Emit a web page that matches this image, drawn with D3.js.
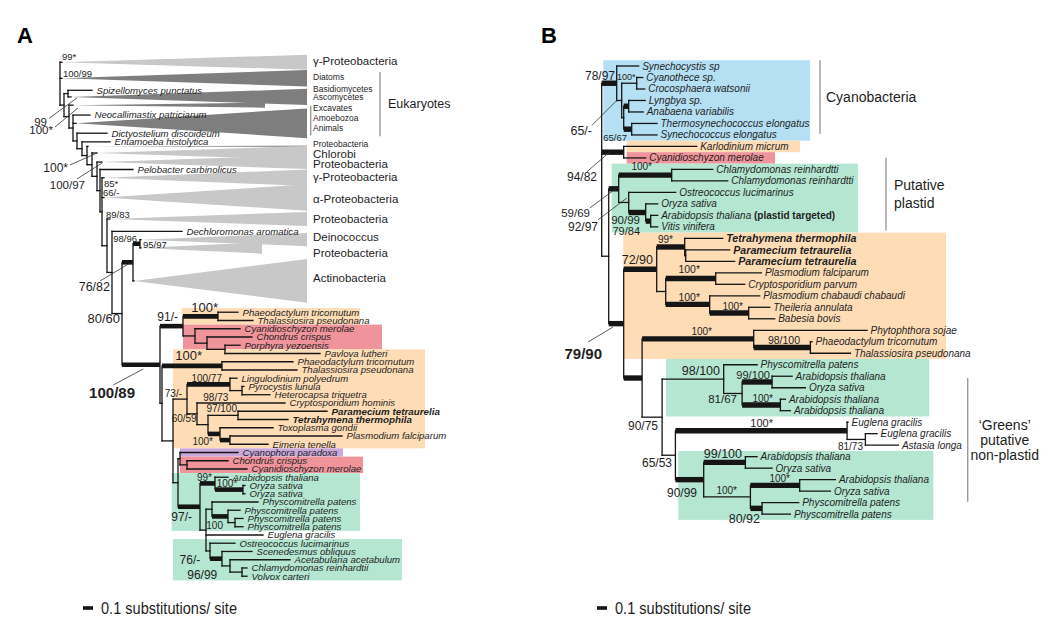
<!DOCTYPE html>
<html><head><meta charset="utf-8">
<script src="https://cdn.jsdelivr.net/npm/d3@7/dist/d3.min.js"></script>
<style>
body{margin:0;background:#fff;}
svg{display:block;font-family:"Liberation Sans",Arial,Helvetica,sans-serif;}
</style></head><body>
<svg id="chart" width="1050" height="624"></svg>
<script>
// ================= PANEL A DATA =================
// [id, parent, branch length (substitutions/site), taxon name]
const treeA = [
 ["R","",0],
 ["gam1","R",0.02],["diat","R",0.02],["A1","R",0.04],
 ["F1","A1",0.04],["spiz","F1",0.24,"Spizellomyces punctatus"],["fungi","F1",0.03],
 ["A2","A1",0.05],["exc","A2",0.04],["A3","A2",0.04],
 ["neo","A3",0.17,"Neocallimastix patriciarum"],["anim","A3",0.03],["A4","A3",0.04],
 ["dicty","A4",0.30,"Dictyostelium discoideum"],["A5","A4",0.05],
 ["ent","A5",0.28,"Entamoeba histolytica"],["A6","A5",0.05],
 ["proT","A6",0.01],["A7","A6",0.05],
 ["chlb","A7",0.05],["A8","A7",0.05],
 ["pro2","A8",0.05],["A9","A8",0.03],
 ["pel","A9",0.33,"Pelobacter carbinolicus"],["A10","A9",0.02],
 ["gam2","A10",0.02],["alpha","A10",0.02],["A11","A10",0.05],
 ["pro3","A11",0.03],["A12","A11",0.05],
 ["dech","A12",0.70,"Dechloromonas aromatica"],["A13","A12",0.10],
 ["A14","A13",0.11],["A15","A14",0.07],["dein","A15",0.01],["pro4","A15",0.01],["act","A14",0.01],
 ["Aeuk","A13",0.38],
 ["B1","Aeuk",0.23],["D","B1",0.35],
 ["phaeo1","D",0.20,"Phaeodactylum tricornutum"],["thal1","D",0.35,"Thalassiosira pseudonana"],
 ["Rd","B1",0.12],["cyan1","Rd",0.45,"Cyanidioschyzon merolae"],["Rd2","Rd",0.12],
 ["chon1","Rd2",0.45,"Chondrus crispus"],["PP","Rd2",0.18],
 ["porph","PP",0.15,"Porphyra yezoensis"],["pavl","PP",0.95,"Pavlova lutheri"],
 ["B2","Aeuk",0.02],["Hd","B2",0.60],
 ["phaeo2","Hd",0.71,"Phaeodactylum tricornutum"],["thal2","Hd",0.75,"Thalassiosira pseudonana"],
 ["B3","B2",0.11],["Alv","B3",0.14],["Dino","Alv",0.43],
 ["ling","Dino",0.07,"Lingulodinium polyedrum"],["HP","Dino",0.12],
 ["pyro","HP",0.02,"Pyrocystis lunula"],["het","HP",0.28,"Heterocapsa triquetra"],
 ["X","Alv",0.10],["crypt","X",0.88,"Cryptosporidium hominis"],["Y","X",0.11],
 ["Om","Y",0.30],["param","Om",0.89,"Paramecium tetraurelia"],["tetra","Om",0.50,"Tetrahymena thermophila"],
 ["Api","Y",0.12],["toxo","Api",0.53,"Toxoplasma gondii"],["EP","Api",0.10],
 ["plasm","EP",1.12,"Plasmodium falciparum"],["eim","EP",0.38,"Eimeria tenella"],
 ["Prim","B3",0.05],["GR","Prim",0.02],["cyph","GR",0.58,"Cyanophora paradoxa"],
 ["Red2","GR",0.07],["chon2","Red2",0.41,"Chondrus crispus"],["cyan2","Red2",0.60,"Cyanidioschyzon merolae"],
 ["G","Prim",0.22],["Gp","G",0.15],["arab","Gp",0.13,"Arabidopsis thaliana"],
 ["Oz","Gp",0.28],["ory1","Oz",0.02,"Oryza sativa"],["ory2","Oz",0.02,"Oryza sativa"],
 ["G2","G",0.06],["Moss","G2",0.06],["phy1","Moss",0.46,"Physcomitrella patens"],
 ["M2","Moss",0.16],["phy2","M2",0.12,"Physcomitrella patens"],["M3","M2",0.07],
 ["phy3","M3",0.08,"Physcomitrella patens"],["phy4","M3",0.08,"Physcomitrella patens"],
 ["eug","G2",0.57,"Euglena gracilis"],
 ["ChlN","G2",0.04],["ostr","ChlN",0.25,"Ostreococcus lucimarinus"],["SA","ChlN",0.12],
 ["scen","SA",0.30,"Scenedesmus obliquus"],["AC","SA",0.08],
 ["acet","AC",0.60,"Acetabularia acetabulum"],["CV","AC",0.12],
 ["chlam","CV",0.05,"Chlamydomonas reinhardtii"],["volv","CV",0.05,"Volvox carteri"]
];
// collapsed clades: [id, name(s), depth to tips (subs/site), clade size (rows), shade]
const collapsedA = [
 ["gam1","γ-Proteobacteria",2.45,1.8,"light"],
 ["diat","Diatoms",2.45,2.0,"dark"],
 ["fungi","Basidiomycetes|Ascomycetes",2.36,1.95,"dark"],
 ["exc","Excavates",1.92,0.6,"dark"],
 ["anim","Amoebozoa|Animals",2.31,3.6,"dark"],
 ["proT","Proteobacteria",2.19,0.2,"mid"],
 ["chlb","Chlorobi",2.10,1.7,"light"],
 ["pro2","Proteobacteria",2.05,1.7,"light"],
 ["gam2","γ-Proteobacteria",2.03,2.0,"light"],
 ["alpha","α-Proteobacteria",2.03,3.2,"light"],
 ["pro3","Proteobacteria",1.97,1.7,"light"],
 ["dein","Deinococcus",1.66,1.6,"light"],
 ["pro4","Proteobacteria",1.21,1.4,"light"],
 ["act","Actinobacteria",1.73,5.3,"light"]
];
// rows occupied by tips in the upper (collapsed) part of tree A
const slotsA = {gam1:2,diat:1.9,spiz:1,fungi:0.6,exc:1.4,neo:1,anim:1,dicty:1.4,ent:0.7,proT:0.4,
 chlb:1.2,pro2:1,pel:0.8,gam2:1.2,alpha:3.6,pro3:1.6,dech:1.4,dein:0.6,pro4:1.4,act:6.6};
// bootstrap / posterior support: [node, value]
const supportA = [
 ["gam1","99*"],["diat","100/99"],["fungi","99"],["exc","100*"],["chlb","100*"],["pro2","100/97"],
 ["gam2","85*"],["alpha","66/-"],["pro3","89/83"],["A15","98/96"],["dein","95/97"],["A14","76/82"],
 ["A13","80/60"],["Aeuk","100/89"],["B1","91/-"],["D","100*"],["Hd","100*"],["Dino","100/77"],
 ["Alv","73/-"],["X","98/73"],["Om","97/100"],["Y","60/59"],["Api","100*"],["Gp","99*"],["Oz","100*"],
 ["G","97/-"],["M2","100"],["SA","76/-"],["CV","96/99"]
];
const strongA = ["A14","A15","Aeuk","B1","D","Hd","Dino","Api","EP","G","Gp","Oz","M2","SA"];
const boldTaxaA = ["param","tetra"];

// ================= PANEL B DATA =================
const treeB = [
 ["RB","",0],
 ["Cy","RB",0.15],["syn","Cy",0.22,"Synechocystis sp"],["C2","Cy",0.05],
 ["CC","C2",0.15],["cyth","CC",0.06,"Cyanothece sp."],["croc","CC",0.08,"Crocosphaera watsonii"],
 ["C3","C2",0.02],["LA","C3",0.05],["lyng","LA",0.165,"Lyngbya sp."],["anab","LA",0.145,"Anabaena variabilis"],
 ["TS","C3",0.08],["therm","TS",0.253,"Thermosynechococcus elongatus"],["synel","TS",0.253,"Synechococcus elongatus"],
 ["KC","RB",0.22],["karl","KC",0.73,"Karlodinium micrum"],["cyanB","KC",0.22,"Cyanidioschyzon merolae"],
 ["N608","RB",0.07],["GP","N608",0.10],["ChlB","GP",0.53],
 ["chr1","ChlB",0.41,"Chlamydomonas reinhardtti"],["chr2","ChlB",0.56,"Chlamydomonas reinhardtti"],
 ["GP2","GP",0.10],["ostB","GP2",0.47,"Ostreococcus lucimarinus"],["Land","GP2",0.17],
 ["oryP","Land",0.12,"Oryza sativa"],["AV","Land",0.05],
 ["arabP","AV",0.07,"Arabidopsis thaliana"],["vitis","AV",0.07,"Vitis vinifera"],
 ["N79","N608",0.15],["AlvB","N79",0.33],["Cil","AlvB",0.28],
 ["tetB","Cil",0.38,"Tetrahymena thermophila"],["PPm","Cil",0.01],
 ["par1","PPm",0.44,"Paramecium tetraurelia"],["par2","PPm",0.49,"Paramecium tetraurelia"],
 ["ApiB","AlvB",0.09],["PC","ApiB",0.50],
 ["plf","PC",0.457,"Plasmodium falciparum"],["crp","PC",0.29,"Cryptosporidium parvum"],
 ["Pi","ApiB",0.44],["plc","Pi",0.50,"Plasmodium chabaudi chabaudi"],["TB","Pi",0.39],
 ["thei","TB",0.21,"Theileria annulata"],["babe","TB",0.26,"Babesia bovis"],
 ["NS","N79",0.184],["Str","NS",1.116],["phyt","Str",1.134,"Phytophthora sojae"],["PT","Str",0.567],
 ["phaB","PT",0.017,"Phaeodactylum tricornutum"],["thaB","PT",0.40,"Thalassiosira pseudonana"],
 ["NG","NS",0.20],["G1","NG",0.616],["phyB1","G1",0.334,"Physcomitrella patens"],["G1b","G1",0.184],
 ["AO","G1b",0.30],["arB1","AO",0.20,"Arabidopsis thaliana"],["orB1","AO",0.333,"Oryza sativa"],
 ["AA","G1b",0.383],["arB2","AA",0.05,"Arabidopsis thaliana"],["arB3","AA",0.10,"Arabidopsis thaliana"],
 ["NG2","NG",0.133],["EugB","NG2",1.717],["eu1","EugB",0.01,"Euglena gracilis"],["EA","EugB",0.183],
 ["eu2","EA",0.117,"Euglena gracilis"],["asta","EA",0.33,"Astasia longa"],
 ["NG3","NG2",0.283],["AO2","NG3",0.417],["arB4","AO2",0.117,"Arabidopsis thaliana"],["orB2","AO2",0.267,"Oryza sativa"],
 ["N100","NG3",0.467],["AO3","N100",0.493],["arB5","AO3",0.357,"Arabidopsis thaliana"],["orB3","AO3",0.307,"Oryza sativa"],
 ["PP2","N100",0.117],["phyB2","PP2",0.366,"Physcomitrella patens"],["phyB3","PP2",0.283,"Physcomitrella patens"]
];
const supportB = [
 ["Cy","78/97"],["CC","100*"],["C2","65/-"],["TS","65/67"],["KC","94/82"],["ChlB","100*"],["GP","59/69"],
 ["GP2","92/97"],["Land","90/99"],["AV","79/84"],["Cil","99*"],["AlvB","72/90"],["PC","100*"],["Pi","100*"],
 ["TB","100*"],["N79","79/90"],["Str","100*"],["PT","98/100"],["G1","98/100"],["AO","99/100"],["G1b","81/67"],
 ["AA","100*"],["NG","90/75"],["EugB","100*"],["EA","81/73"],["NG2","65/53"],["AO2","99/100"],["NG3","90/99"],
 ["N100","100*"],["AO3","100*"],["PP2","80/92"]
];
const strongB = ["Cy","LA","TS","KC","GP","ChlB","Land","AV","N79","AlvB","Cil","PC","Pi","TB","NS","Str","PT",
 "AO","AA","EugB","NG3","AO2","AO3","PP2"];
const boldTaxaB = ["tetB","par1","par2"];
const notesB = {arabP:"(plastid targeted)"};
const scaleBarValue = 0.1;
const scaleBarText = "0.1 substitutions/ site";

// ================= LAYOUT / STYLE =================
const C = {orange:"#fddcb6", red:"#f0949b", purple:"#c9a8dc", green:"#b4e6d2", blue:"#b5dff3"};
const TONES = {light:"#c8c8c8", dark:"#7e7e7e", mid:"#9c9c9c"};
const INK = "#151515";

const layoutA = {
 x: d3.scaleLinear().domain([0,1]).range([60,160]),
 y: d3.scaleLinear().domain([0,1]).range([54,62.25]),
 leafSize:9.6, boldSize:9.8, gap:4.5, thin:1.3, thick:4.6,
 boxes:[["phaeo1","thal1",1.217,3.0,C.orange],["cyan1","porph",1.23,3.22,C.red],["pavl","eim",1.13,3.65,C.orange],
   ["cyph","cyph",1.2,2.83,C.purple],["chon2","cyan2",1.2,3.03,C.red],["arab","phy4",1.117,3.0,C.green],["ostr","volv",1.13,3.42,C.green]],
 cladeLabelX: 2.53,
 cladeLab: {gam1:[-1,11.5],diat:[-1,8.5],fungi:[-4,8.5,8.5],exc:[3,8.5],anim:[0,8.5,10],proT:[-2,8.5],chlb:[1,11.5],
   pro2:[2,11.5],gam2:[-0.5,11.5],alpha:[1.4,11.5],pro3:[0,11.5],dein:[-2.5,11.5],pro4:[5,11.5],act:[-2.5,11.5]},
 sup:{
  gam1:[0,-2,"start",9.5], diat:[1,-1.5,"start",9.5],
  fungi:[-24,28.6,"end",11.5,null,[-22,21.5,6,1]], exc:[-20,29.3,"end",11.5,null,[-18,21.8,5,2.8]],
  chlb:[-29,19,"end",12,null,[-27,12,0,0]], pro2:[-17,26.9,"end",11.5,null,[-25,16.9,0,0.9]],
  gam2:[0,8.75,"start",9.5], alpha:[-1,-1.5,"start",9.5], pro3:[-4,-1.5,"start",9.5],
  A15:[-3,-1.3,"end",9.5], dein:[2,7.9,"start",9.5],
  A14:[-23,28.2,"end",12.5,null,[-33,18.7,-3,0.7]], A13:[-2,9,"end",13],
  Aeuk:[-25,33.2,"end",15,"bold",[-46.7,20.2,-16.7,4.2]],
  B1:[-5,-5.2,"end",12], D:[0,-3.9,"end",13], Hd:[-20,-5.4,"end",13], Dino:[-8,-2.6,"end",10],
  Alv:[-5,-2.6,"end",10], X:[31.3,-13.3,"end",10], Om:[-1,-2.9,"end",10], Y:[-11.3,-3.1,"end",10],
  Api:[-7,11.1,"end",10], Gp:[-3,-2.9,"end",10], Oz:[-5.7,-3.1,"end",10], G:[-8,14.2,"end",12],
  M2:[-5,12.1,"end",10], SA:[-21.7,5.3,"end",12], CV:[-24.7,6.9,"end",12]
 },
 brackets:[["diat","anim",3.2,2,2,["Eukaryotes"],"start",8,12.5,15],["exc","anim",2.507,3,3,[],"start",0,12,14]],
 scaleBar:[83,608]
};
const layoutB = {
 x: d3.scaleLinear().domain([0,1]).range([601.7,701.7]),
 y: d3.scaleLinear().domain([0,1]).range([60.26,71.75]),
 leafSize:10, boldSize:10.7, gap:3.5, thin:1.3, thick:5.4,
 boxes:[["syn","synel",0.016,2.083,C.blue],["karl","karl",0.25,1.983,C.orange],["cyanB","cyanB",0.25,1.733,C.red],
   ["chr1","vitis",0.10,2.563,C.green],["tetB","thaB",0.216,3.443,C.orange],["phyB1","arB3",0.643,3.276,C.green],
   ["arB4","phyB3",0.766,3.316,C.green]],
 sup:{
  Cy:[-1.7,-3.7,"end",12], CC:[-1.2,-3.3,"end",9], C2:[-29.7,34.3,"end",12.5,null,[-29.7,24.8,-4.7,-0.2]],
  TS:[-4.7,12,"end",9.5], KC:[-26.7,28.8,"end",12,null,[-36.7,19.5,-13.7,-0.5]],
  ChlB:[-19.7,-5.5,"end",10], GP:[-28.7,28,"end",11.5,null,[-28.7,19,-1.7,-1]],
  GP2:[-30.7,28.4,"end",12,null,[-30.7,17.4,-1.7,-4.6]], Land:[-5.7,11.6,"end",11.5], AV:[-10.7,13.6,"end",11],
  Cil:[-11.7,-4.4,"end",10], AlvB:[-3.7,-5.5,"end",12.5], PC:[-15.7,-5.5,"end",10.5], Pi:[-9.7,-3.8,"end",10.5],
  TB:[-5.7,-3.2,"end",10], N79:[-21.7,34.9,"end",15,"bold",[-35.7,18.4,-10.7,3.4]], Str:[-41.7,-4.1,"end",10],
  PT:[-10.4,-3.2,"end",10.5], G1:[-3.7,-4.3,"end",12.5], AO:[-2.1,-3,"end",11], G1b:[-5.1,9.9,"end",11.5],
  AA:[-7.4,-3.2,"end",10], NG:[-4.1,12.6,"end",12], EugB:[-74.1,-4.2,"end",11], EA:[-2.4,10.8,"end",10],
  NG2:[-3.4,11.5,"end",12], AO2:[-3.4,-4,"end",12.5], NG3:[-6.7,17.1,"end",12], N100:[-13.4,-2.7,"end",10],
  AO3:[-9.7,-3.2,"end",10], PP2:[-2.1,15,"end",12.5]
 },
 brackets:[["syn","synel",2.183,0,7,["Cyanobacteria"],"start",6,14,15],
   ["chr1","vitis",2.843,-6,2,["Putative","plastid"],"start",8,14,18],
   ["phyB1","phyB3",3.66,19,18,["‘Greens’","putative","non-plastid"],"middle",37,14,15]],
 scaleBar:[597,608]
};

const svg = d3.select("#chart");

function layoutTree(rows, slots, xs, ys){
  const root = d3.stratify().id(d=>d[0]).parentId(d=>d[1])(rows);
  root.eachBefore(n=>{ n.dist = n.parent ? n.parent.dist + n.data[2] : 0; n.x = xs(n.dist); });
  let cum = 0;
  root.leaves().forEach(l=>{
    const h = (slots && slots[l.id] != null) ? slots[l.id] : 1;
    l.top = ys(cum); l.bot = ys(cum+h); l.y = ys(cum+h/2); cum += h;
  });
  root.eachAfter(n=>{ if(n.children){ const c=n.children; n.y=(c[0].y+c[c.length-1].y)/2; } });
  return root;
}

function drawPanel(tree, slots, collapsed, support, strong, boldTaxa, notes, L){
  const root = layoutTree(tree, slots, L.x, L.y);
  const byId = new Map(root.descendants().map(d=>[d.id,d]));
  const coll = new Map((collapsed||[]).map(c=>[c[0],c]));
  const half = id => { const c = coll.get(id); return c ? (L.y(c[3])-L.y(0))/2 : 0; };
  const g = svg.append("g");
  // coloured boxes
  L.boxes.forEach(([a,b,u0,u1,col])=>{
    const na=byId.get(a), nb=byId.get(b);
    g.append("rect").attr("x",L.x(u0)).attr("y",na.top).attr("width",L.x(u1)-L.x(u0))
      .attr("height",nb.bot-na.top).attr("fill",col);
  });
  // collapsed triangles
  (collapsed||[]).forEach(([id,name,depth,spread,tone])=>{
    const n=byId.get(id), x1=L.x(n.dist+depth), h=half(id);
    g.append("path").attr("d",`M${n.x},${n.y}L${x1},${n.y-h}L${x1},${n.y+h}Z`).attr("fill",TONES[tone]);
  });
  // vertical connectors
  root.descendants().filter(d=>d.children).forEach(d=>{
    const c=d.children;
    g.append("line").attr("x1",d.x).attr("x2",d.x).attr("y1",c[0].y).attr("y2",c[c.length-1].y)
      .attr("stroke",INK).attr("stroke-width",L.thin).attr("stroke-linecap","square");
  });
  // horizontal branches
  const strongSet = new Set(strong);
  root.descendants().filter(d=>d.parent).forEach(d=>{
    const s = strongSet.has(d.id);
    g.append("line").attr("x1",d.parent.x).attr("x2",d.x).attr("y1",d.y).attr("y2",d.y)
      .attr("stroke",INK).attr("stroke-width", s?L.thick:L.thin).attr("stroke-linecap", s?"butt":"square");
  });
  // taxon labels
  const boldSet = new Set(boldTaxa);
  root.leaves().filter(l=>l.data[3]).forEach(l=>{
    const b = boldSet.has(l.id);
    const t = g.append("text").attr("x",l.x+L.gap).attr("y",l.y).attr("dy","0.35em")
      .attr("font-size",b?L.boldSize:L.leafSize).attr("font-style","italic")
      .attr("font-weight",b?"bold":"normal").attr("fill","#1e1e1e").text(l.data[3]);
    if(notes && notes[l.id]){
      t.append("tspan").attr("font-style","normal").attr("font-weight","bold").text(" "+notes[l.id]);
    }
  });
  // collapsed clade names
  (collapsed||[]).forEach(([id,name])=>{
    const n=byId.get(id), cl=L.cladeLab[id]||[0,11.5];
    const lines=name.split("|"), lh=cl[2]||cl[1]*1.1;
    lines.forEach((s,i)=>{
      g.append("text").attr("x",L.x(L.cladeLabelX)).attr("y",n.y+cl[0]+(i-(lines.length-1)/2)*lh)
        .attr("dy","0.35em").attr("font-size",cl[1]).attr("fill","#1e1e1e").text(s);
    });
  });
  // support values
  support.forEach(([id,val])=>{
    const n=byId.get(id), p=L.sup[id]; if(!n||!p) return;
    g.append("text").attr("x",n.x+p[0]).attr("y",n.y+p[1]).attr("text-anchor",p[2])
      .attr("font-size",p[3]).attr("font-weight",p[4]||"normal").attr("fill","#1e1e1e").text(val);
    if(p[5]){
      const q=p[5];
      g.append("line").attr("x1",n.x+q[0]).attr("y1",n.y+q[1]).attr("x2",n.x+q[2]).attr("y2",n.y+q[3])
        .attr("stroke","#333").attr("stroke-width",0.8);
    }
  });
  // brackets
  const extent = id => { const n=byId.get(id), h=half(id); return coll.has(id)?[n.y-h,n.y+h]:[n.top,n.bot]; };
  L.brackets.forEach(([a,b,xu,i0,i1,lines,anchor,ldx,fs,lh])=>{
    const y0=extent(a)[0]+i0, y1=extent(b)[1]-i1, bx=L.x(xu);
    g.append("line").attr("x1",bx).attr("x2",bx).attr("y1",y0).attr("y2",y1)
      .attr("stroke","#9a9a9a").attr("stroke-width",1.4);
    const cy=(y0+y1)/2;
    lines.forEach((s,i)=>{
      g.append("text").attr("x",bx+ldx).attr("y",cy+(i-(lines.length-1)/2)*lh).attr("dy","0.35em")
        .attr("text-anchor",anchor).attr("font-size",fs).attr("fill","#1e1e1e").text(s);
    });
  });
  // scale bar
  const [sx,sy]=L.scaleBar, w=L.x(scaleBarValue)-L.x(0);
  g.append("rect").attr("x",sx).attr("y",sy-1.8).attr("width",w).attr("height",3.6).attr("fill",INK);
  g.append("text").attr("x",sx+w+8).attr("y",sy+5.5).attr("font-size",16)
    .attr("font-family","'Liberation Sans Narrow','Liberation Sans',Arial,sans-serif")
    .attr("textLength",136).attr("lengthAdjust","spacingAndGlyphs").attr("fill","#1e1e1e").text(scaleBarText);
  return root;
}

drawPanel(treeA, slotsA, collapsedA, supportA, strongA, boldTaxaA, null, layoutA);
drawPanel(treeB, null, null, supportB, strongB, boldTaxaB, notesB, layoutB);

svg.append("text").attr("x",17).attr("y",43).attr("font-size",22).attr("font-weight","bold").text("A");
svg.append("text").attr("x",541).attr("y",43).attr("font-size",22).attr("font-weight","bold").text("B");
</script>
</body></html>
